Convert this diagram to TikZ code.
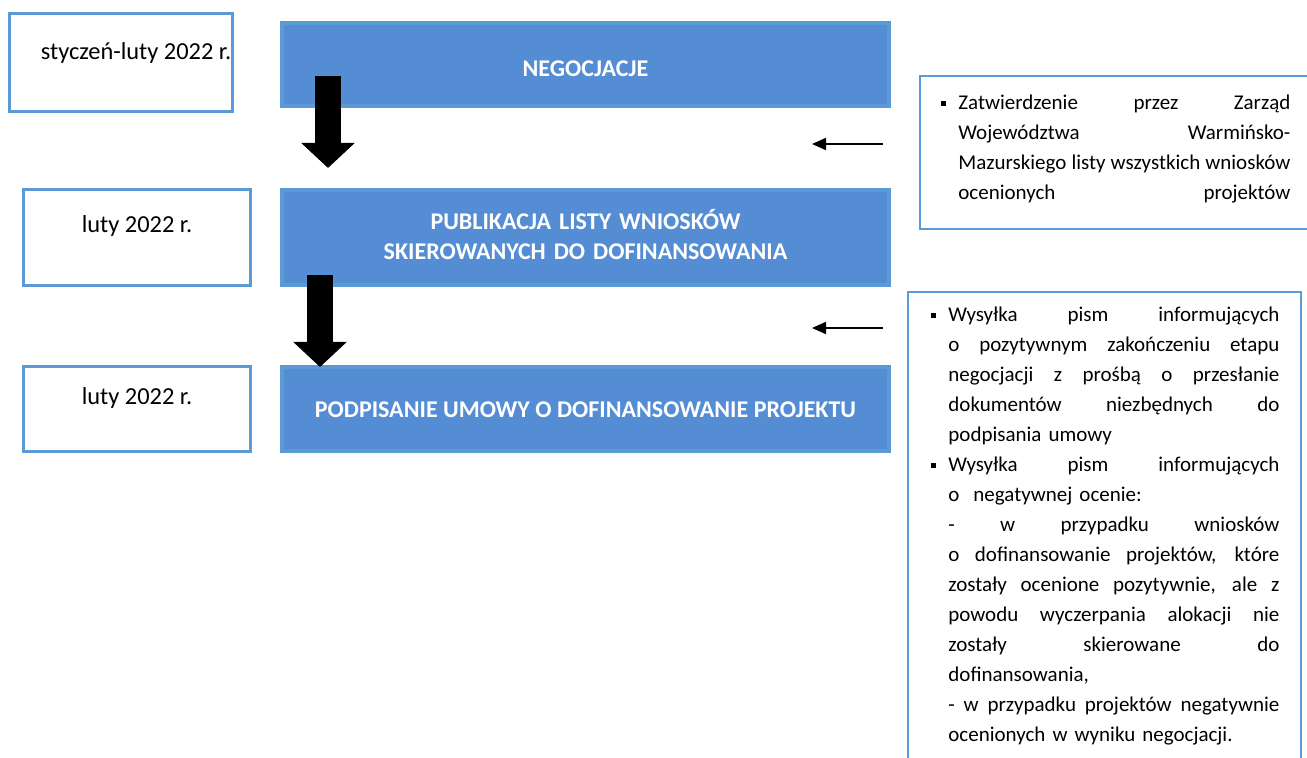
\documentclass[tikz,border=0pt]{standalone}
\usepackage{fontspec}
\setmainfont{Carlito}
\usetikzlibrary{arrows.meta}
\definecolor{boxblue}{RGB}{91,155,213}
\definecolor{fillblue}{RGB}{84,141,212}
\newcommand{\jl}[2][166pt]{\leavevmode\hbox to #1{\spaceskip=0.226em plus 1fil\relax #2}}
\newcommand{\bul}{\leavevmode\llap{\rule[2pt]{2.7pt}{2.7pt}\hspace{6pt}}}
\tikzset{
  datebox/.style={draw=boxblue, line width=1.5pt, fill=white, inner sep=0},
  stagebox/.style={draw=boxblue, line width=2pt, fill=fillblue, inner sep=0},
  notebox/.style={draw=boxblue, line width=1pt, inner sep=0},
  txt/.style={inner sep=0, font=\fontsize{12.2pt}{15pt}\selectfont},
  notetxt/.style={inner sep=0, font=\fontsize{10.5pt}{15pt}\selectfont},
  stagetxt/.style={inner sep=0, text=white, font=\fontsize{12pt}{15pt}\selectfont\bfseries},
  bigarrow/.style={line width=13pt, -{Triangle[length=12.5pt,width=26pt]}},
  smallarrow/.style={line width=1pt, -{Triangle[length=7pt,width=6pt]}},
}
\begin{document}
\begin{tikzpicture}[x=0.5pt,y=-0.5pt]
\useasboundingbox (0,0) rectangle (1307,758);
\fill[white] (0,0) rectangle (1307,758);
% date boxes
\node[datebox, minimum width=111.5pt, minimum height=49pt] (d1) at (121,62.5) {};
\node[datebox, minimum width=113.5pt, minimum height=48pt] (d2) at (137,237.5) {};
\node[datebox, minimum width=113.5pt, minimum height=42.5pt] (d3) at (137,409) {};
\node[txt, anchor=base] (d1t) at (136,60) {styczeń-luty 2022 r.};
\node[txt, anchor=base] (d2t) at (137,233) {luty 2022 r.};
\node[txt, anchor=base] (d3t) at (137,405) {luty 2022 r.};
% stage boxes
\node[stagebox, minimum width=303.5pt, minimum height=41.5pt] (s1) at (585.5,64.5) {};
\node[stagebox, minimum width=303.5pt, minimum height=47.5pt] (s2) at (585.5,237.5) {};
\node[stagebox, minimum width=303.5pt, minimum height=42pt] (s3) at (585.5,409) {};
\node[stagetxt, anchor=base] (s1t) at (585.5,77) {NEGOCJACJE};
\node[stagetxt, anchor=base, text width=300pt, align=center] (s2t) at (585.5,230) {PUBLIKACJA LISTY WNIOSKÓW\\SKIEROWANYCH DO DOFINANSOWANIA};
\node[stagetxt, anchor=base] (s3t) at (585.5,418) {PODPISANIE UMOWY O DOFINANSOWANIE PROJEKTU};
% big arrows
\coordinate (a1s) at (328,76);
\coordinate (a1e) at (328,168);
\coordinate (a2s) at (320,275);
\coordinate (a2e) at (320,367);
\draw[bigarrow] (a1s) -- (a1e);
\draw[bigarrow] (a2s) -- (a2e);
% small arrows
\coordinate (b1s) at (883,144);
\coordinate (b1e) at (812,144);
\coordinate (b2s) at (883,328);
\coordinate (b2e) at (812,328);
\draw[smallarrow] (b1s) -- (b1e);
\draw[smallarrow] (b2s) -- (b2e);
% note boxes
\begin{scope}
\clip (0,0) rectangle (1307,758);
\node[notebox, minimum width=199.5pt, minimum height=76.5pt] (n1) at (1119.5,152.5) {};
\node[notebox, minimum width=196.5pt, minimum height=253.5pt] (n2) at (1104.5,545.5) {};
\end{scope}
\node[notetxt, anchor=base west, text width=166pt, align=left] (n1t) at (958,110) {%
\bul\jl{Zatwierdzenie przez Zarząd}\\
\jl{Województwa Warmińsko-}\\
\jl{Mazurskiego listy wszystkich wniosków}\\
\jl{ocenionych projektów}};
\node[notetxt, anchor=base west, text width=165.5pt, align=left] (n2t) at (948,322) {%
\bul\jl[165.5pt]{Wysyłka pism informujących}\\
\jl[165.5pt]{o pozytywnym zakończeniu etapu}\\
\jl[165.5pt]{negocjacji z prośbą o przesłanie}\\
\jl[165.5pt]{dokumentów niezbędnych do}\\
podpisania umowy\\
\bul\jl[165.5pt]{Wysyłka pism informujących}\\
o\ \ negatywnej ocenie:\\
\jl[165.5pt]{- w przypadku wniosków}\\
\jl[165.5pt]{o dofinansowanie projektów, które}\\
\jl[165.5pt]{zostały ocenione pozytywnie, ale z}\\
\jl[165.5pt]{powodu wyczerpania alokacji nie}\\
\jl[165.5pt]{zostały skierowane do}\\
dofinansowania,\\
\jl[165.5pt]{- w przypadku projektów negatywnie}\\
ocenionych w wyniku negocjacji.};
\end{tikzpicture}
\end{document}
